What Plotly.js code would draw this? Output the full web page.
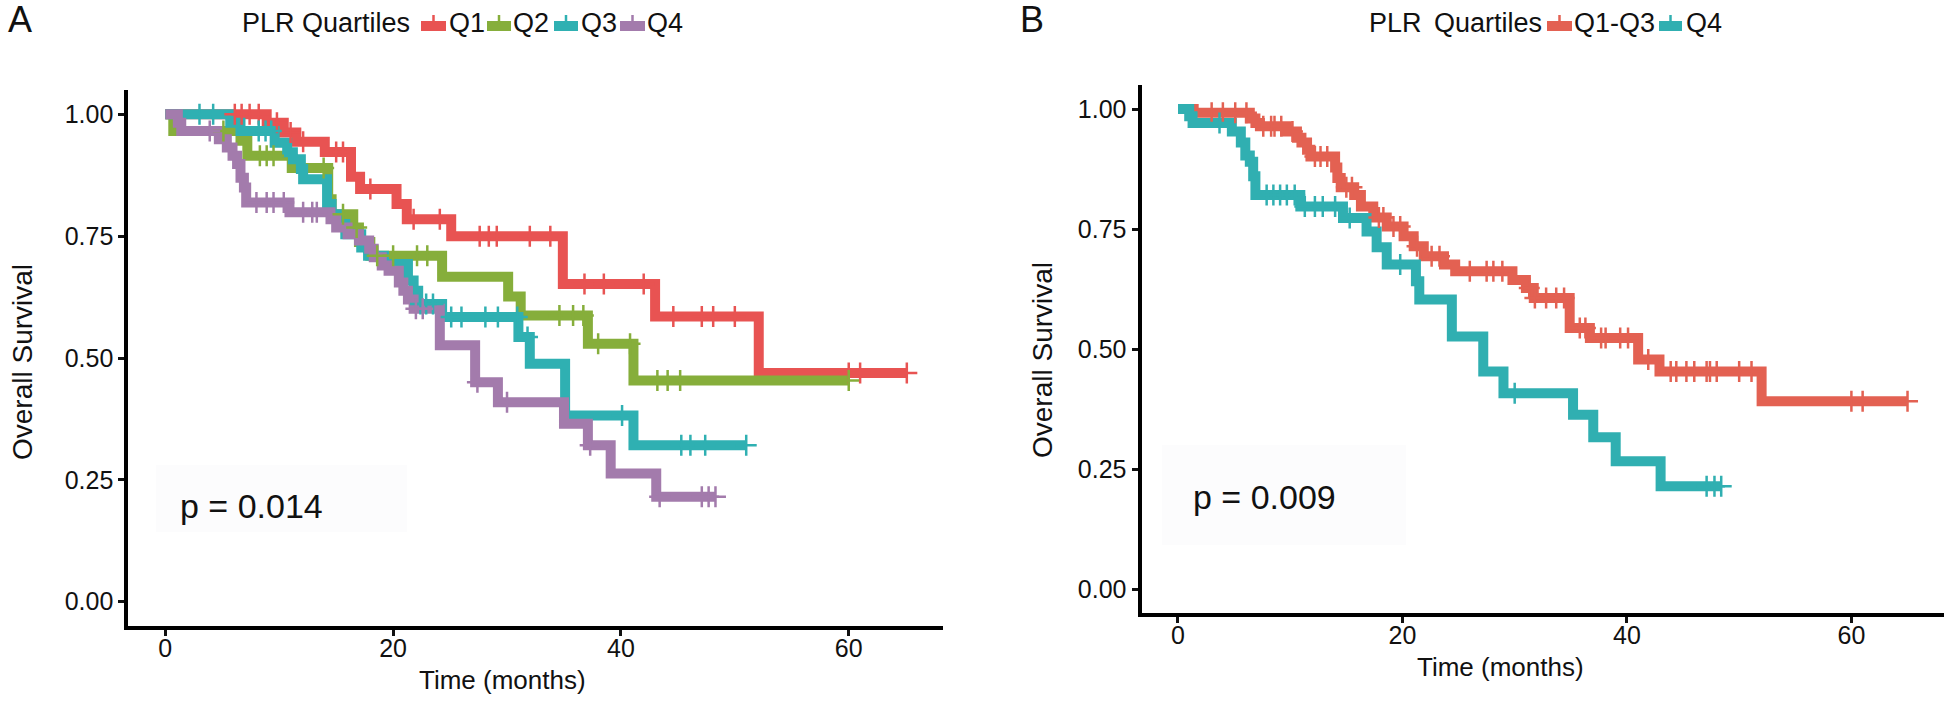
<!DOCTYPE html>
<html>
<head>
<meta charset="utf-8">
<script src="https://cdn.plot.ly/plotly-3.0.1.min.js"></script>
<style>html,body{margin:0;padding:0;background:#fff;}#chart{width:1944px;height:702px;}</style>
</head>
<body>
<div id="chart"></div>
<script>
// ---------- Panel A : PLR quartiles ----------
const A_groups = ["Q1", "Q2", "Q3", "Q4"];
const A_colors = ["#E85352", "#86AE3B", "#2FB0B2", "#A37BAC"];

const A_Q1_time = [0, 8.9, 10.4, 11.5, 14.0, 16.3, 17.1, 20.3, 21.2, 25.1, 34.9, 43.0, 52.1, 65.1];
const A_Q1_surv = [1, 0.983, 0.963, 0.944, 0.923, 0.872, 0.847, 0.816, 0.785, 0.750, 0.652, 0.585, 0.469, 0.469];
const A_Q1_cens = [6.1, 6.7, 7.4, 8.2, 9.8, 11.0, 12.1, 15.0, 15.6, 18.0, 21.8, 24.1, 27.6, 28.4, 29.1, 32.0, 33.8, 36.8, 38.5, 42.0, 44.6, 47.1, 48.1, 50.0, 60.0, 61.0, 65.1];

const A_Q2_time = [0, 0.7, 6.6, 7.2, 11.1, 14.3, 14.6, 16.5, 17.0, 18.0, 24.3, 30.1, 31.2, 37.1, 41.1, 60.1];
const A_Q2_surv = [1, 0.966, 0.946, 0.915, 0.890, 0.826, 0.795, 0.768, 0.738, 0.710, 0.667, 0.626, 0.587, 0.529, 0.454, 0.454];
const A_Q2_cens = [5.1, 8.3, 8.9, 9.5, 13.9, 15.6, 16.8, 18.6, 20.0, 22.1, 23.0, 34.6, 35.8, 36.7, 38.0, 40.8, 43.2, 44.1, 45.2, 60.0];

const A_Q3_time = [0, 5.7, 6.6, 9.6, 10.7, 11.2, 11.9, 12.1, 14.2, 14.6, 15.2, 15.8, 17.2, 17.8, 19.2, 21.3, 21.8, 22.2, 24.3, 31.0, 32.0, 35.1, 41.1, 51.0];
const A_Q3_surv = [1, 0.983, 0.966, 0.942, 0.922, 0.908, 0.888, 0.867, 0.816, 0.795, 0.775, 0.754, 0.727, 0.710, 0.693, 0.659, 0.638, 0.611, 0.584, 0.543, 0.488, 0.382, 0.321, 0.321];
const A_Q3_cens = [3.0, 4.2, 8.2, 8.8, 9.3, 22.4, 22.9, 23.5, 25.1, 26.0, 28.1, 29.2, 30.9, 31.8, 40.1, 45.3, 46.1, 47.4, 51.0];

const A_Q4_time = [0, 1.1, 1.4, 4.7, 5.4, 5.9, 6.3, 6.6, 6.9, 7.1, 10.9, 14.5, 15.0, 16.0, 17.0, 17.9, 18.3, 19.0, 19.6, 20.5, 20.9, 21.3, 21.8, 24.1, 27.2, 29.2, 35.0, 37.1, 39.1, 43.1, 48.3];
const A_Q4_surv = [1, 0.983, 0.966, 0.949, 0.932, 0.915, 0.898, 0.870, 0.850, 0.819, 0.799, 0.785, 0.768, 0.754, 0.741, 0.724, 0.707, 0.690, 0.679, 0.655, 0.638, 0.620, 0.601, 0.526, 0.450, 0.409, 0.365, 0.321, 0.263, 0.215, 0.215];
const A_Q4_cens = [3.9, 8.0, 8.9, 9.5, 10.4, 12.1, 12.9, 13.3, 22.0, 22.6, 27.4, 30.0, 37.3, 43.4, 47.1, 47.7, 48.3];

const A_pvalue = "p = 0.014";

// ---------- Panel B : PLR Q1-Q3 vs Q4 ----------
const B_groups = ["Q1-Q3", "Q4"];
const B_colors = ["#E36152", "#30AFB1"];

const B_Q13_time = [0, 1.4, 6.4, 6.9, 7.3, 9.7, 10.6, 11.0, 11.5, 11.8, 14.0, 14.2, 14.5, 15.7, 16.3, 17.4, 18.6, 20.1, 21.0, 21.9, 23.7, 24.7, 29.8, 31.0, 31.7, 34.9, 36.7, 41.0, 42.9, 52.0, 65.0];
const B_Q13_surv = [1, 0.992, 0.980, 0.971, 0.964, 0.953, 0.940, 0.930, 0.915, 0.901, 0.878, 0.856, 0.837, 0.821, 0.797, 0.774, 0.755, 0.735, 0.714, 0.693, 0.676, 0.662, 0.644, 0.627, 0.606, 0.544, 0.523, 0.478, 0.453, 0.391, 0.391];
const B_Q13_cens = [3.0, 4.0, 5.1, 6.1, 7.6, 8.3, 8.6, 9.2, 10.2, 12.2, 12.7, 13.3, 15.0, 15.5, 17.9, 18.3, 19.2, 19.8, 21.3, 22.6, 23.3, 26.0, 27.5, 28.1, 28.9, 31.3, 31.8, 32.8, 33.7, 34.4, 35.8, 36.3, 37.7, 38.1, 39.4, 40.1, 41.9, 43.9, 44.4, 45.3, 46.0, 47.1, 47.4, 48.0, 50.0, 51.1, 60.0, 61.0, 65.0];

const B_Q4_time = [0, 1.0, 1.3, 4.8, 5.6, 6.0, 6.4, 6.7, 6.9, 10.9, 14.7, 16.8, 17.7, 18.6, 21.2, 21.5, 24.4, 27.2, 29.0, 35.2, 37.0, 39.0, 43.0, 48.4];
const B_Q4_surv = [1, 0.985, 0.971, 0.953, 0.930, 0.903, 0.890, 0.860, 0.821, 0.797, 0.773, 0.745, 0.712, 0.676, 0.641, 0.603, 0.526, 0.453, 0.408, 0.363, 0.316, 0.266, 0.214, 0.214];
const B_Q4_cens = [3.7, 7.9, 8.5, 9.1, 9.7, 10.4, 11.3, 12.2, 12.9, 14.0, 15.3, 19.8, 30.0, 47.1, 47.8, 48.4];

const B_pvalue = "p = 0.009";

const yTickVals = [0, 0.25, 0.5, 0.75, 1];
const yTickText = ["0.00", "0.25", "0.50", "0.75", "1.00"];
const xTickVals = [0, 20, 40, 60];

// ---------- helpers ----------
const W = 1944, H = 702;
const FONT = "Liberation Sans, Arial, Helvetica, sans-serif";
const px = v => v / W;
const py = v => 1 - v / H;

function survAt(times, surv, t) {
  let s = surv[0];
  for (let i = 0; i < times.length; i++) { if (times[i] <= t) s = surv[i]; else break; }
  return s;
}

function kmTraces(times, surv, cens, color, name, xa, ya) {
  return [
    { x: times, y: surv, type: "scatter", mode: "lines", name: name,
      line: { shape: "hv", color: color, width: 10 }, xaxis: xa, yaxis: ya, showlegend: false, hoverinfo: "skip" },
    { x: cens, y: cens.map(t => survAt(times, surv, t)), type: "scatter", mode: "markers", name: name,
      marker: { symbol: "cross-thin", size: 15, color: color, line: { width: 2.5, color: color } },
      xaxis: xa, yaxis: ya, showlegend: false, hoverinfo: "skip" }
  ];
}

const A_data = [
  [A_Q1_time, A_Q1_surv, A_Q1_cens],
  [A_Q2_time, A_Q2_surv, A_Q2_cens],
  [A_Q3_time, A_Q3_surv, A_Q3_cens],
  [A_Q4_time, A_Q4_surv, A_Q4_cens]
];
const B_data = [
  [B_Q13_time, B_Q13_surv, B_Q13_cens],
  [B_Q4_time, B_Q4_surv, B_Q4_cens]
];

const lineTr = [], markTr = [];
A_data.forEach((d, i) => { const t = kmTraces(d[0], d[1], d[2], A_colors[i], A_groups[i], "x", "y"); lineTr.push(t[0]); markTr.push(t[1]); });
B_data.forEach((d, i) => { const t = kmTraces(d[0], d[1], d[2], B_colors[i], B_groups[i], "x2", "y2"); lineTr.push(t[0]); markTr.push(t[1]); });
const traces = lineTr.concat(markTr);

const axisCommon = {
  showgrid: false, zeroline: false, showline: true, linecolor: "#000", linewidth: 4,
  ticks: "outside", ticklen: 6, tickwidth: 3, tickcolor: "#111",
  tickfont: { family: FONT, size: 25, color: "#111" }, fixedrange: true
};

const shapes = [];
const annotations = [];

// faint boxes behind p-values
shapes.push({ type: "rect", xref: "paper", yref: "paper", x0: px(156), x1: px(407), y0: py(532), y1: py(465), fillcolor: "#fcfcfd", line: { width: 0 }, layer: "below" });
shapes.push({ type: "rect", xref: "paper", yref: "paper", x0: px(1162), x1: px(1406), y0: py(545), y1: py(445), fillcolor: "#fcfcfd", line: { width: 0 }, layer: "below" });

function legendKey(x0, x1, yc, color) {
  shapes.push({ type: "rect", xref: "paper", yref: "paper", x0: px(x0), x1: px(x1), y0: py(yc + 5), y1: py(yc - 5), fillcolor: color, line: { width: 0 } });
  const xm = (x0 + x1) / 2;
  shapes.push({ type: "line", xref: "paper", yref: "paper", x0: px(xm), x1: px(xm), y0: py(yc), y1: py(yc - 11), line: { color: color, width: 2.5 } });
}
function txt(text, x, y, size, xanchor, extra) {
  annotations.push(Object.assign({ text: text, xref: "paper", yref: "paper", x: px(x), y: py(y), xanchor: xanchor || "left", yanchor: "middle",
    showarrow: false, font: { family: FONT, size: size, color: "#111" } }, extra || {}));
}

// Panel A legend
txt("A", 6, 20, 36);
txt("PLR Quartiles", 240, 23, 27);
const A_keyX = [[421, 446], [487, 511], [554, 578], [620, 645]];
const A_txtX = [447, 511, 579, 645];
A_groups.forEach((g, i) => { legendKey(A_keyX[i][0], A_keyX[i][1], 26, A_colors[i]); txt(g, A_txtX[i], 23, 27); });

// Panel B legend
txt("B", 1018, 20, 36);
txt("PLR", 1367, 23, 27);
txt("Quartiles", 1432, 23, 27);
const B_keyX = [[1547, 1572], [1659, 1682]];
const B_txtX = [1572, 1684];
B_groups.forEach((g, i) => { legendKey(B_keyX[i][0], B_keyX[i][1], 26, B_colors[i]); txt(g, B_txtX[i], 23, 27); });

// axis titles
txt("Overall Survival", 22, 362, 28, "center", { textangle: -90 });
txt("Overall Survival", 1043, 360, 28, "center", { textangle: -90 });
txt("Time (months)", 502, 680, 26, "center");
txt("Time (months)", 1500, 667, 26, "center");

// p-values
txt(A_pvalue, 251, 506, 34, "center");
txt(B_pvalue, 1264, 497, 34, "center");

const layout = {
  width: W, height: H, margin: { l: 0, r: 0, t: 0, b: 0 },
  paper_bgcolor: "#fff", plot_bgcolor: "#fff", showlegend: false,
  xaxis: Object.assign({}, axisCommon, { domain: [px(128.3), px(942.7)], range: [-3.25, 68.25], tickvals: xTickVals, anchor: "y", ticklabelstandoff: -9 }),
  yaxis: Object.assign({}, axisCommon, { domain: [py(626), py(90)], range: [-0.05, 1.05], tickvals: yTickVals, ticktext: yTickText, anchor: "x" }),
  xaxis2: Object.assign({}, axisCommon, { domain: [px(1141.5), 1], range: [-3.25, 68.25], tickvals: xTickVals, anchor: "y2", ticklabelstandoff: -9 }),
  yaxis2: Object.assign({}, axisCommon, { domain: [py(613), py(85)], range: [-0.05, 1.05], tickvals: yTickVals, ticktext: yTickText, anchor: "x2" }),
  shapes: shapes, annotations: annotations
};

Plotly.newPlot("chart", traces, layout, { staticPlot: true, displayModeBar: false });
</script>
</body>
</html>
